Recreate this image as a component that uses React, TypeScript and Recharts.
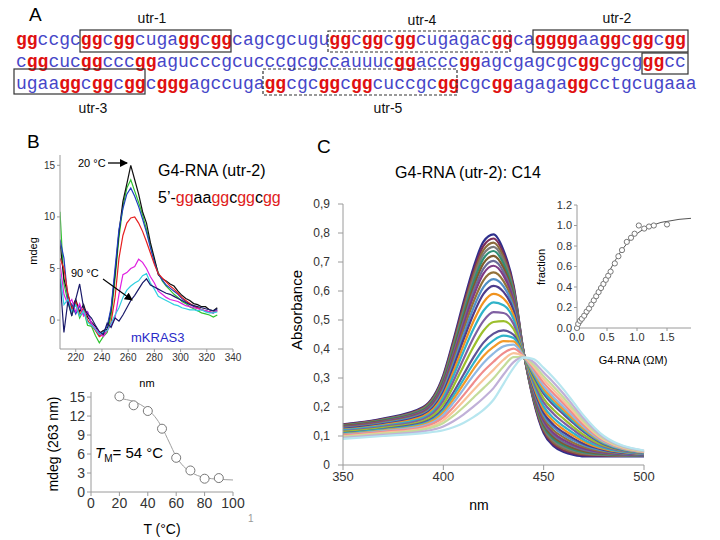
import React from "react";
import { LineChart, Line, XAxis, YAxis, ComposedChart, Scatter } from "recharts";

const SANS = "'Liberation Sans', Arial, sans-serif";

// A: sequence rows (upper case = G-runs, drawn red/bold)
const seqRows = [
  "GGccgcGGcGGcugaGGcGGcagcgcuguGGcGGcGGcugagacGGcaGGGGaaGGcGGcGG",
  "cGGcucGGcccGGagucccgcucccgcgccauuucGGacccGGagcgagcgcGGcgcgGGcc",
  "ugaaGGcGGcGGcGGGagccugaGGcgcGGcGGcuccgcGGcgcGGagagaGGcctgcugaaa",
];

// B: CD spectra
const cdWavelengths = [208, 211, 214, 217, 220, 223, 226, 229, 232, 235, 238, 241, 244, 247, 250, 253, 256, 259, 262, 265, 268, 271, 274, 277, 280, 283, 286, 289, 292, 295, 298, 301, 304, 307, 310, 313, 316, 319, 322, 325, 328];
const cdBlack = [7.5, 4.0, 2.5, 1.2, 2.0, 0.8, 1.5, 0.3, -0.2, -0.6, -1.3, -1.0, -0.9, 1.0, 4.5, 8.5, 11.5, 13.2, 15.0, 13.6, 12.2, 10.5, 9.4, 7.5, 6.0, 4.4, 4.0, 3.8, 3.5, 3.3, 2.8, 2.4, 2.1, 1.9, 1.6, 1.5, 1.3, 1.3, 1.0, 0.9, 1.2];
const cdGreen = [10.5, 3.5, 1.8, 0.5, 1.6, 0.2, 1.0, -0.5, -0.6, -1.5, -2.2, -1.6, -1.2, 0.4, 4.0, 8.0, 11.0, 12.8, 13.6, 12.5, 11.4, 10.2, 8.8, 7.2, 5.8, 4.6, 3.8, 3.3, 2.9, 2.5, 2.2, 1.8, 1.6, 1.3, 1.1, 0.9, 0.7, 0.6, 0.5, 0.3, 0.5];
const cdBlue = [7.8, 6.0, 2.0, 1.5, 0.6, 1.4, 0.5, 0.8, -0.4, -0.9, -1.5, -1.2, -0.6, 1.2, 5.0, 8.8, 10.8, 12.2, 12.8, 12.0, 11.0, 9.8, 8.5, 7.0, 5.6, 4.5, 3.9, 3.4, 3.1, 2.8, 2.5, 2.1, 1.8, 1.6, 1.3, 1.2, 1.0, 0.9, 0.8, 0.7, 1.0];
const cdRed = [6.0, 5.0, 2.6, 1.0, 1.8, 0.5, 1.2, 0.0, -0.5, -1.0, -1.6, -1.4, -1.0, -0.2, 2.2, 6.0, 8.2, 9.4, 9.9, 10.0, 9.4, 8.6, 7.6, 6.5, 5.4, 4.5, 4.1, 3.7, 3.3, 3.0, 2.6, 2.2, 1.9, 1.6, 1.4, 1.2, 1.0, 0.9, 0.8, 0.7, 0.9];
const cdMagenta = [5.5, 2.5, 1.5, 2.0, 0.8, 1.6, 0.4, 0.8, -0.3, -0.8, -1.2, -1.6, -1.0, -0.5, 0.2, 2.5, 4.4, 4.6, 5.0, 5.2, 5.9, 5.6, 5.0, 4.2, 3.6, 2.8, 2.5, 2.2, 2.0, 1.9, 1.8, 1.6, 1.4, 1.3, 1.2, 1.1, 1.0, 0.9, 0.8, 0.7, 0.9];
const cdCyan = [4.5, 1.5, 2.0, 0.8, 1.5, 0.4, 0.9, -0.2, -0.5, -0.9, -1.4, -1.2, -1.0, -0.3, 0.5, 1.2, 2.2, 2.9, 3.3, 3.6, 3.8, 4.3, 4.5, 3.6, 3.0, 2.3, 2.1, 1.9, 1.7, 1.5, 1.4, 1.2, 1.1, 1.0, 1.0, 0.9, 1.0, 0.8, 0.7, 0.7, 0.8];
const cdNavy = [4.0, -1.2, 1.8, 0.4, 2.0, 3.5, 1.2, 0.6, 0.2, -0.5, -1.1, -1.4, -0.3, -0.7, 0.2, -0.1, 0.5, 1.2, 1.9, 2.4, 3.0, 3.6, 4.0, 3.4, 3.2, 3.0, 2.8, 2.6, 2.5, 2.3, 2.1, 1.9, 1.7, 1.5, 1.4, 1.3, 1.2, 1.1, 1.0, 0.9, 1.1];

const cdSeries = [
  { key: "green", color: "#2fc42f", values: cdGreen },
  { key: "black", color: "#111111", values: cdBlack },
  { key: "blue", color: "#1f3fbf", values: cdBlue },
  { key: "red", color: "#e62020", values: cdRed },
  { key: "magenta", color: "#e020e0", values: cdMagenta },
  { key: "cyan", color: "#30d0e0", values: cdCyan },
  { key: "navy", color: "#1a1a6a", values: cdNavy },
];

// B: melting curve
const meltTemps = [20, 30, 40, 50, 60, 70, 80, 90];
const meltValues = [15.1, 13.7, 12.8, 10.0, 5.4, 3.4, 2.1, 2.2];
const meltFitTemps = [20, 25, 30, 35, 40, 45, 50, 55, 60, 65, 70, 75, 80, 85, 90, 95, 100];
const meltFitValues = [14.8, 14.6, 14.3, 13.8, 13.0, 11.9, 10.2, 7.9, 5.6, 4.1, 3.2, 2.6, 2.3, 2.1, 2.0, 1.95, 1.9];

// C: absorbance titration
const absWavelengths = [350, 370, 390, 400, 405, 410, 415, 420, 425, 430, 435, 440, 445, 450, 455, 460, 465, 470, 480, 500];
const absCurves = [
  [0.14, 0.16, 0.20, 0.31, 0.43, 0.56, 0.68, 0.77, 0.795, 0.74, 0.62, 0.39, 0.22, 0.11, 0.065, 0.045, 0.035, 0.03, 0.03, 0.03],
  [0.139, 0.158, 0.198, 0.305, 0.423, 0.550, 0.667, 0.756, 0.781, 0.729, 0.613, 0.390, 0.224, 0.116, 0.071, 0.050, 0.040, 0.034, 0.032, 0.031],
  [0.138, 0.157, 0.196, 0.301, 0.415, 0.539, 0.654, 0.741, 0.767, 0.717, 0.606, 0.389, 0.227, 0.121, 0.077, 0.056, 0.044, 0.037, 0.034, 0.031],
  [0.136, 0.156, 0.193, 0.296, 0.408, 0.529, 0.641, 0.727, 0.752, 0.706, 0.599, 0.389, 0.231, 0.127, 0.083, 0.061, 0.049, 0.041, 0.035, 0.032],
  [0.135, 0.154, 0.191, 0.291, 0.400, 0.519, 0.629, 0.712, 0.738, 0.694, 0.592, 0.388, 0.235, 0.133, 0.089, 0.067, 0.053, 0.044, 0.037, 0.032],
  [0.134, 0.152, 0.188, 0.285, 0.391, 0.506, 0.613, 0.695, 0.721, 0.680, 0.583, 0.387, 0.239, 0.139, 0.096, 0.073, 0.058, 0.048, 0.039, 0.033],
  [0.132, 0.150, 0.186, 0.280, 0.382, 0.494, 0.598, 0.677, 0.704, 0.666, 0.574, 0.387, 0.243, 0.146, 0.103, 0.079, 0.064, 0.052, 0.041, 0.033],
  [0.131, 0.149, 0.183, 0.274, 0.373, 0.481, 0.582, 0.660, 0.687, 0.653, 0.566, 0.386, 0.248, 0.153, 0.110, 0.086, 0.069, 0.057, 0.043, 0.034],
  [0.129, 0.146, 0.179, 0.266, 0.361, 0.465, 0.562, 0.637, 0.664, 0.634, 0.554, 0.385, 0.253, 0.162, 0.119, 0.095, 0.076, 0.062, 0.046, 0.035],
  [0.127, 0.144, 0.176, 0.259, 0.349, 0.448, 0.541, 0.613, 0.641, 0.616, 0.543, 0.385, 0.259, 0.171, 0.129, 0.103, 0.084, 0.068, 0.049, 0.035],
  [0.125, 0.141, 0.172, 0.251, 0.337, 0.431, 0.520, 0.590, 0.618, 0.597, 0.532, 0.384, 0.265, 0.180, 0.138, 0.112, 0.091, 0.073, 0.052, 0.036],
  [0.122, 0.138, 0.168, 0.242, 0.322, 0.411, 0.495, 0.561, 0.590, 0.574, 0.517, 0.383, 0.272, 0.191, 0.150, 0.122, 0.100, 0.080, 0.055, 0.037],
  [0.120, 0.135, 0.163, 0.232, 0.307, 0.390, 0.469, 0.532, 0.561, 0.551, 0.503, 0.382, 0.280, 0.202, 0.161, 0.133, 0.109, 0.087, 0.059, 0.038],
  [0.117, 0.132, 0.158, 0.221, 0.289, 0.365, 0.438, 0.497, 0.527, 0.524, 0.486, 0.381, 0.288, 0.216, 0.176, 0.146, 0.120, 0.096, 0.063, 0.039],
  [0.114, 0.128, 0.152, 0.209, 0.271, 0.340, 0.407, 0.463, 0.493, 0.496, 0.469, 0.379, 0.297, 0.229, 0.190, 0.159, 0.130, 0.104, 0.067, 0.041],
  [0.110, 0.124, 0.146, 0.196, 0.250, 0.311, 0.371, 0.422, 0.453, 0.464, 0.449, 0.378, 0.307, 0.245, 0.206, 0.174, 0.143, 0.114, 0.072, 0.042],
  [0.108, 0.122, 0.142, 0.188, 0.238, 0.294, 0.350, 0.399, 0.430, 0.446, 0.438, 0.377, 0.313, 0.254, 0.215, 0.183, 0.150, 0.120, 0.075, 0.043],
  [0.106, 0.119, 0.139, 0.181, 0.226, 0.278, 0.330, 0.376, 0.407, 0.427, 0.426, 0.376, 0.319, 0.263, 0.225, 0.191, 0.157, 0.125, 0.078, 0.044],
  [0.104, 0.117, 0.135, 0.173, 0.214, 0.261, 0.309, 0.352, 0.385, 0.409, 0.415, 0.376, 0.324, 0.272, 0.234, 0.200, 0.165, 0.131, 0.080, 0.044],
  [0.102, 0.114, 0.131, 0.164, 0.199, 0.240, 0.283, 0.323, 0.356, 0.386, 0.401, 0.375, 0.332, 0.283, 0.246, 0.211, 0.174, 0.138, 0.084, 0.045],
  [0.099, 0.111, 0.126, 0.154, 0.184, 0.220, 0.258, 0.294, 0.328, 0.363, 0.386, 0.374, 0.339, 0.295, 0.258, 0.221, 0.183, 0.145, 0.087, 0.046],
  [0.097, 0.108, 0.122, 0.145, 0.169, 0.199, 0.232, 0.265, 0.299, 0.340, 0.372, 0.373, 0.346, 0.306, 0.270, 0.232, 0.192, 0.152, 0.091, 0.047],
  [0.094, 0.104, 0.116, 0.133, 0.151, 0.174, 0.201, 0.231, 0.265, 0.312, 0.355, 0.371, 0.355, 0.319, 0.284, 0.245, 0.202, 0.160, 0.095, 0.049],
  [0.090, 0.100, 0.110, 0.120, 0.130, 0.145, 0.165, 0.190, 0.225, 0.280, 0.335, 0.370, 0.365, 0.335, 0.300, 0.260, 0.215, 0.170, 0.100, 0.050],
];
const absColors = [
  "#2e2f8c", "#7b2c5a", "#8c6b3c", "#7a7a7a", "#2f8f74", "#7d5b2c", "#6b6b99", "#7e3b86", "#93713a", "#4f8fc5",
  "#4d3c8c", "#f0921e", "#2fb3c9", "#7f5fa2", "#9cbf2c", "#5f5297", "#2fb3c9", "#f39a2a", "#8fb8e3", "#f08c8c",
  "#f9c29b", "#c5dc9a", "#c0b0d8", "#b7e6ef",
];
const absTicks = [0, 0.1, 0.2, 0.3, 0.4, 0.5, 0.6, 0.7, 0.8, 0.9];

// C inset: binding fraction
const bindConc = [0, 0.02, 0.05, 0.08, 0.12, 0.16, 0.2, 0.24, 0.28, 0.32, 0.36, 0.4, 0.44, 0.48, 0.52, 0.56, 0.63, 0.69, 0.75, 0.83, 0.9, 0.96, 1.03, 1.12, 1.2, 1.28, 1.5];
const bindFraction = [0, 0.04, 0.07, 0.09, 0.12, 0.16, 0.19, 0.23, 0.27, 0.31, 0.35, 0.39, 0.43, 0.47, 0.51, 0.55, 0.63, 0.7, 0.76, 0.84, 0.88, 0.92, 1.0, 0.97, 0.99, 1.0, 1.01];
const bindFitConc = [0, 0.1, 0.2, 0.3, 0.4, 0.5, 0.6, 0.7, 0.8, 0.9, 1.0, 1.1, 1.2, 1.3, 1.4, 1.5, 1.6, 1.7, 1.8, 1.9];
const bindFitFraction = [0, 0.07, 0.16, 0.27, 0.39, 0.51, 0.62, 0.72, 0.8, 0.87, 0.92, 0.96, 0.99, 1.01, 1.03, 1.04, 1.05, 1.06, 1.065, 1.07];

const cdRows = cdWavelengths.map((nm, i) => {
  const row: Record<string, number> = { nm };
  cdSeries.forEach((s) => (row[s.key] = s.values[i]));
  return row;
});
const absRows = absWavelengths.map((nm, i) => {
  const row: Record<string, number> = { nm };
  absCurves.forEach((c, k) => (row["c" + k] = c[i]));
  return row;
});
const meltPoints = meltTemps.map((x, i) => ({ x, y: meltValues[i] }));
const meltFit = meltFitTemps.map((x, i) => ({ x, y: meltFitValues[i] }));
const bindPoints = bindConc.map((x, i) => ({ x, y: bindFraction[i] }));
const bindFit = bindFitConc.map((x, i) => ({ x, y: bindFitFraction[i] }));

const axisGray = "#9a9a9a";
const tickStyle = (size: number) => ({ fontSize: size, fill: "#333", fontFamily: SANS });

const openCircle = (r: number, stroke: string) => (p: any) => (
  <circle cx={p.cx} cy={p.cy} r={r} fill="#fff" stroke={stroke} strokeWidth={1} />
);

const seqBoxes = [
  { x: 80, y: 30, w: 151, h: 22, dash: false },
  { x: 328, y: 31, w: 182, h: 21, dash: true },
  { x: 533, y: 30, w: 155, h: 22, dash: false },
  { x: 642, y: 53, w: 46, h: 21, dash: false },
  { x: 14, y: 69, w: 131, h: 25, dash: false },
  { x: 263, y: 69, w: 194, h: 26, dash: true },
];

const Overlay = () => (
  <svg width={720} height={540} style={{ position: "absolute", left: 0, top: 0, pointerEvents: "none" }}>
    <defs>
      <marker id="ah" markerWidth="8" markerHeight="8" refX="7" refY="4" orient="auto" markerUnits="userSpaceOnUse">
        <path d="M0,0 L8,4 L0,8 Z" fill="#000" />
      </marker>
    </defs>
    {/* panel letters */}
    <text x={29} y={21} fontFamily={SANS} fontSize={19}>A</text>
    <text x={27} y={148} fontFamily={SANS} fontSize={19}>B</text>
    <text x={317} y={153} fontFamily={SANS} fontSize={19}>C</text>

    {/* A: sequence */}
    {seqRows.map((row, r) => (
      <text key={r} x={16} y={45 + r * 22} fontFamily="'Liberation Mono', monospace" fontSize={18}>
        {row.match(/[A-Z]+|[a-z]+/g)!.map((run, i) =>
          run === run.toUpperCase() ? (
            <tspan key={i} fill="#e01010" fontWeight="bold">{run.toLowerCase()}</tspan>
          ) : (
            <tspan key={i} fill="#4646c8">{run}</tspan>
          )
        )}
      </text>
    ))}
    {seqBoxes.map((b, i) => (
      <rect key={i} x={b.x} y={b.y} width={b.w} height={b.h} fill="none" stroke="#333" strokeWidth={1.2}
        strokeDasharray={b.dash ? "3 2" : undefined} />
    ))}
    <g fontFamily={SANS} fontSize={14} fill="#111" textAnchor="middle">
      <text x={152} y={23}>utr-1</text>
      <text x={422} y={25}>utr-4</text>
      <text x={617} y={23}>utr-2</text>
      <text x={93} y={113}>utr-3</text>
      <text x={388} y={113}>utr-5</text>
    </g>

    {/* B annotations */}
    <text x={78} y={167} fontFamily={SANS} fontSize={11}>20 °C</text>
    <line x1={108} y1={163} x2={127} y2={163} stroke="#000" strokeWidth={1.3} markerEnd="url(#ah)" />
    <text x={71} y={277} fontFamily={SANS} fontSize={11}>90 °C</text>
    <line x1={103} y1={279} x2={132} y2={300} stroke="#000" strokeWidth={1.1} markerEnd="url(#ah)" />
    <text x={158} y={176} fontFamily={SANS} fontSize={16}>G4-RNA (utr-2)</text>
    <text x={158} y={203} fontFamily={SANS} fontSize={16}>
      <tspan>5’-</tspan><tspan fill="#e02020">gg</tspan><tspan>aa</tspan><tspan fill="#e02020">gg</tspan>
      <tspan>c</tspan><tspan fill="#e02020">gg</tspan><tspan>c</tspan><tspan fill="#e02020">gg</tspan>
    </text>
    <text x={131} y={342} fontFamily={SANS} fontSize={13} fill="#2a2ac8">mKRAS3</text>
    <text transform="translate(37,251) rotate(-90)" textAnchor="middle" fontFamily={SANS} fontSize={11}>mdeg</text>
    <text x={147} y={387} textAnchor="middle" fontFamily={SANS} fontSize={11}>nm</text>

    {/* B melting */}
    <text transform="translate(58,444) rotate(-90)" textAnchor="middle" fontFamily={SANS} fontSize={14}>mdeg (263 nm)</text>
    <text x={162} y={534} textAnchor="middle" fontFamily={SANS} fontSize={14}>T (°C)</text>
    <text x={95} y={458} fontFamily={SANS} fontSize={15}>
      <tspan fontStyle="italic">T</tspan>
      <tspan dy={4} fontSize={10}>M</tspan>
      <tspan dy={-4}>= 54 °C</tspan>
    </text>
    <text x={248} y={522} fontFamily={SANS} fontSize={10} fill="#999999">1</text>

    {/* C */}
    <text x={468} y={178} textAnchor="middle" fontFamily={SANS} fontSize={16}>G4-RNA (utr-2): C14</text>
    <text transform="translate(302,310) rotate(-90)" textAnchor="middle" fontFamily={SANS} fontSize={15}>Absorbance</text>
    <text x={479} y={510} textAnchor="middle" fontFamily={SANS} fontSize={14}>nm</text>
    <text transform="translate(545,267) rotate(-90)" textAnchor="middle" fontFamily={SANS} fontSize={11}>fraction</text>
    <text x={633} y={364} textAnchor="middle" fontFamily={SANS} fontSize={11}>G4-RNA (ΩM)</text>
  </svg>
);

const App: React.FC = () => (
  <div style={{ position: "absolute", left: 0, top: 0, width: 720, height: 540, background: "#fff", overflow: "hidden" }}>
    {/* B: CD spectra */}
    <div style={{ position: "absolute", left: 0, top: 140 }}>
      <LineChart width={250} height={240} data={cdRows} margin={{ top: 15, right: 17, bottom: 6, left: 20 }}>
        <XAxis dataKey="nm" type="number" domain={[208, 340]} ticks={[220, 240, 260, 280, 300, 320, 340]} interval={0}
          height={25} stroke={axisGray} tickSize={3} tick={tickStyle(10)} allowDataOverflow />
        <YAxis type="number" domain={[-2.8, 16]} ticks={[0, 5, 10, 15]} width={40} stroke={axisGray} tickSize={3}
          tick={tickStyle(10)} allowDataOverflow />
        {cdSeries.map((s) => (
          <Line key={s.key} dataKey={s.key} stroke={s.color} strokeWidth={1.2} dot={false} type="linear" isAnimationActive={false} />
        ))}
      </LineChart>
    </div>

    {/* B: melting curve */}
    <div style={{ position: "absolute", left: 40, top: 380 }}>
      <ComposedChart width={210} height={140} margin={{ top: 12, right: 17, bottom: 5, left: 21 }}>
        <XAxis dataKey="x" type="number" domain={[0, 100]} ticks={[0, 20, 40, 60, 80, 100]} interval={0} height={23}
          stroke={axisGray} tickSize={4} tick={tickStyle(14)} />
        <YAxis dataKey="y" type="number" domain={[0, 15.8]} ticks={[0, 3, 6, 9, 12, 15]} interval={0} width={30}
          stroke={axisGray} tickSize={4} tick={tickStyle(14)} />
        <Line data={meltFit} dataKey="y" stroke="#a0a0a0" strokeWidth={1} dot={false} type="monotone" isAnimationActive={false} />
        <Scatter data={meltPoints} dataKey="y" shape={openCircle(4.5, "#777")} isAnimationActive={false} />
      </ComposedChart>
    </div>

    {/* C: absorbance spectra */}
    <div style={{ position: "absolute", left: 290, top: 190 }}>
      <LineChart width={370} height={310} data={absRows} margin={{ top: 14, right: 16, bottom: 10, left: 13 }}>
        <XAxis dataKey="nm" type="number" domain={[350, 500]} ticks={[350, 400, 450, 500]} interval={0} height={25}
          stroke={axisGray} tickSize={5} tick={tickStyle(13)} />
        <YAxis type="number" domain={[0, 0.9]} ticks={absTicks} interval={0} width={40} stroke={axisGray} tickSize={5}
          tickMargin={8} tick={tickStyle(12)} tickFormatter={(v: number) => (v === 0 ? "0" : v.toFixed(1).replace(".", ","))} />
        {absCurves.map((_, k) => (
          <Line key={k} dataKey={"c" + k} stroke={absColors[k]} strokeWidth={2.2} dot={false} type="monotone" isAnimationActive={false} />
        ))}
      </LineChart>
    </div>

    {/* C inset: fraction bound */}
    <div style={{ position: "absolute", left: 530, top: 195 }}>
      <ComposedChart width={175} height={160} margin={{ top: 10, right: 14, bottom: 7, left: 17 }}>
        <XAxis dataKey="x" type="number" domain={[0, 1.9]} ticks={[0, 0.5, 1, 1.5]} interval={0} height={20}
          stroke={axisGray} tickSize={3} tick={tickStyle(11)} tickFormatter={(v: number) => v.toFixed(1)} />
        <YAxis dataKey="y" type="number" domain={[0, 1.2]} ticks={[0, 0.2, 0.4, 0.6, 0.8, 1, 1.2]} interval={0} width={30}
          stroke={axisGray} tickSize={3} tick={tickStyle(11)} tickFormatter={(v: number) => v.toFixed(1)} />
        <Line data={bindFit} dataKey="y" stroke="#555" strokeWidth={1} dot={false} type="monotone" isAnimationActive={false} />
        <Scatter data={bindPoints} dataKey="y" shape={openCircle(2.6, "#777")} isAnimationActive={false} />
      </ComposedChart>
    </div>

    <Overlay />
  </div>
);

export default App;
